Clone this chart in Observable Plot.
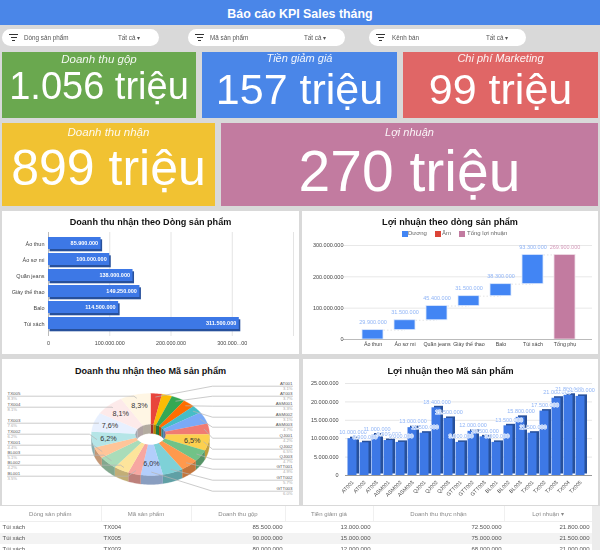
<!DOCTYPE html>
<html lang="vi"><head><meta charset="utf-8">
<script src="https://cdn.jsdelivr.net/npm/d3@7"></script>
<script src="https://cdn.jsdelivr.net/npm/@observablehq/plot@0.6"></script>
<style>
html,body{margin:0;padding:0;width:600px;height:550px;overflow:hidden;background:#d9d9d9;font-family:"Liberation Sans",Arial,sans-serif}
#root{position:relative;width:600px;height:550px;overflow:hidden;filter:blur(.45px)}
.abs{position:absolute}
.banner{left:0;top:0;width:600px;height:25px;background:#4a86e8;color:#fff;font-weight:700;font-size:12.4px;line-height:29px;text-align:center}
.pill{top:29px;height:17px;width:157px;background:#fff;border-radius:9px;color:#555;font-size:6.3px;line-height:17px}
.pill span{position:absolute;white-space:nowrap}
.fn{position:absolute;left:7px;height:1.2px;background:#333}
.card{color:#fff;text-align:center;overflow:hidden}
.card .lab{position:absolute;left:0;right:0;font-style:italic;opacity:.92;white-space:nowrap}
.card .val{position:absolute;left:0;right:0;white-space:nowrap;line-height:1}
.panel{background:#fff;overflow:hidden}
.panel svg{position:absolute;left:0;top:0;background:transparent}
.ttl{position:absolute;left:0;right:0;text-align:center;font-weight:700;font-size:9.1px;color:#111;white-space:nowrap}
.lg{position:absolute;font-size:6px;color:#666;white-space:nowrap}
.sw{position:absolute;width:6px;height:6px}
#tbl{left:0;top:506px;width:592px;height:44px;background:#fff;overflow:hidden}
#tbl table{border-collapse:collapse;table-layout:fixed;width:592px;font-size:6px;color:#555}
#tbl th{font-weight:400;color:#888;height:15px;padding:0;border-right:1px solid #f0f0f0;border-bottom:1px solid #eee}
#tbl td{height:11px;padding:0 2.5px;white-space:nowrap;line-height:11px}
#tbl tr.alt td{background:#f3f3f3}
#tbl td.n{text-align:right}
</style></head><body><div id="root"></div>
<script>
// ---- data ----
const reportTitle = "Báo cáo KPI Sales tháng";
const filterNames = ["Dòng sản phẩm", "Mã sản phẩm", "Kênh bán"];
const kpiNames = ["Doanh thu gộp", "Tiền giảm giá", "Chi phí Marketing", "Doanh thu nhận", "Lợi nhuận"];
const kpiValues = ["1.056 triệu", "157 triệu", "99 triệu", "899 triệu", "270 triệu"];

const lineNames = ["Áo thun", "Áo sơ mi", "Quần jeans", "Giày thể thao", "Balo", "Túi xách"];
const lineRevenue = [85900000, 100000000, 138000000, 149250000, 114500000, 311500000];
const lineProfit = [29900000, 31500000, 45400000, 31500000, 38300000, 93300000];
const profitTotal = 269900000;
const totalName = "Tổng phụ";

const productCodes = ["AT001","AT002","AT003","ASM001","ASM002","ASM003","QJ001","QJ002","QJ003","GTT001","GTT002","GTT003","BL001","BL002","BL003","TX001","TX002","TX003","TX004","TX005"];
const productProfit = [10000000,8900000,11000000,9500000,9000000,13000000,11500000,18400000,15500000,9000000,12000000,10500000,9000000,13500000,15800000,11500000,17500000,21000000,21800000,21500000];
const productShare = [3.1,2.8,3.7,3.3,3.1,4.7,4.2,6.5,4.7,4.9,5.7,6.0,3.5,4.2,5.1,4.4,6.2,7.6,8.1,8.3];

const tableHead = ["Dòng sản phẩm","Mã sản phẩm","Doanh thu gộp","Tiền giảm giá","Doanh thu thực nhận","Lợi nhuận ▾"];
const tableCol1 = ["Túi xách","Túi xách","Túi xách"];
const tableCol2 = ["TX004","TX005","TX003"];
const tableCol3 = ["85.500.000","90.000.000","80.000.000"];
const tableCol4 = ["13.000.000","15.000.000","12.000.000"];
const tableCol5 = ["72.500.000","75.000.000","68.000.000"];
const tableCol6 = ["21.800.000","21.500.000","21.000.000"];

// ---- styling / layout (not data) ----
const sliceColors = ["#e8453c","#fbbc04","#34a853","#ff6d01","#46bdc6","#7baaf7","#f07b72","#fcd04f","#71c287","#ff994d","#7ed1d7","#b3cefb","#f7a7a1","#fde49b","#aadcb9","#ffc599","#b5e5e7","#e8f0fe","#fdeaea","#fff6e4"];
const FONT = '"Liberation Sans",Arial,sans-serif';
const fmt = d => d3.format(",")(d).replace(/,/g, ".");
const root = document.getElementById("root");
function el(cls, css, html) {
  const e = document.createElement("div");
  e.className = cls;
  Object.assign(e.style, css);
  if (html != null) e.innerHTML = html;
  return e;
}
const px = n => n + "px";
root.append(el("abs banner", {}, reportTitle));

[[2, 22, 116], [188, 22, 116], [369, 23, 117]].forEach(([x, tx, vx], i) => {
  const p = el("abs pill", {left: px(x)});
  p.append(el("fn", {top: "5px", width: "9px", left: "7px"}));
  p.append(el("fn", {top: "8px", width: "6px", left: "8.5px"}));
  p.append(el("fn", {top: "11px", width: "3px", left: "10px"}));
  const a = document.createElement("span"); a.style.left = px(tx); a.textContent = filterNames[i];
  const b = document.createElement("span"); b.style.left = px(vx); b.textContent = "Tất cả ▾";
  p.append(a, b);
  root.append(p);
});

[[2,52,194,66,"#6aa84f",38,1,15],[202,52,195,66,"#4a86e8",43,0,16],[403,52,195,66,"#e06666",43,0,16],
 [2,123,213,83,"#f1c232",50,3,20],[221,123,377,83,"#c27ba0",57,3,20]].forEach(([x,y,w,h,c,fs,ly,vy],i) => {
  const d = el("abs card", {left:px(x),top:px(y),width:px(w),height:px(h),background:c});
  d.append(el("lab", {top:px(ly), fontSize: i===0||i===3?"11.5px":"11px"}, kpiNames[i]));
  d.append(el("val", {top:px(vy), fontSize:px(fs)}, kpiValues[i]));
  root.append(d);
});

function panel(x, y, w, h, title, ty) {
  const p = el("abs panel", {left:px(x),top:px(y),width:px(w),height:px(h)});
  p.append(el("ttl", {top:px(ty)}, title));
  root.append(p);
  return p;
}
const baseStyle = size => ({fontFamily: FONT, fontSize: px(size), color: "#444", background: "transparent", overflow: "visible"});

// ---- chart 1: horizontal 3D bars ----
{
  const p = panel(2, 211, 297, 143, "Doanh thu nhận theo Dòng sản phẩm", 6);
  const rows = lineNames.map((n, i) => ({n, v: lineRevenue[i]}));
  p.append(Plot.plot({
    width: 297, height: 143, marginLeft: 46, marginRight: 6, marginTop: 21, marginBottom: 18,
    style: baseStyle(5.5),
    x: {domain: [0, 400000000], axis: null},
    y: {domain: lineNames, padding: 0.28, axis: null},
    marks: [
      Plot.ruleX([100000000, 200000000, 300000000, 400000000], {stroke: "#e4e4e4", strokeWidth: 1}),
      Plot.ruleX([0], {stroke: "#bbb", strokeWidth: 1}),
      Plot.barX(rows, {y: "n", x: "v", fill: "#27509b", dx: 1.5, dy: 1.3}),
      Plot.barX(rows, {y: "n", x: "v", fill: "#3d78e6", dy: -1}),
      Plot.text(rows, {y: "n", x: "v", text: d => fmt(d.v), fill: "#fff", fontWeight: 700, fontSize: 5.5, textAnchor: "end", dx: -3, dy: -1}),
      Plot.axisY({tickSize: 0, tickPadding: 4, label: null, fontSize: 5.5}),
      Plot.axisX({ticks: [0, 100000000, 200000000, 300000000], tickSize: 0, tickPadding: 5, label: null, fontSize: 5.4,
        tickFormat: d => d === 300000000 ? "300.000...00" : fmt(d)})
    ]
  }));
}

// ---- chart 2: waterfall ----
{
  const p = panel(302, 211, 296, 143, "Lợi nhuận theo dòng sản phẩm", 6);
  let run = 0;
  const steps = lineNames.map((n, i) => { const a = run; run += lineProfit[i]; return {n, a, b: run, v: lineProfit[i]}; });
  const cats = [...lineNames, totalName];
  const links = steps.map((s, i) => ({x1: s.n, x2: cats[i + 1], y: s.b}));
  p.append(Plot.plot({
    width: 296, height: 143, marginLeft: 41, marginRight: 6, marginTop: 34, marginBottom: 15,
    style: baseStyle(5.5),
    x: {domain: cats, range: [48, 284], padding: 0.345, axis: null},
    y: {domain: [0, 300000000], axis: null},
    marks: [
      Plot.ruleY([100000000, 200000000, 300000000], {stroke: "#e8e8e8"}),
      Plot.link(links, {x1: "x1", x2: "x2", y1: "y", y2: "y", stroke: "#ddd", strokeDasharray: "1.5,2", strokeWidth: .8}),
      Plot.barY(steps, {x: "n", y1: "a", y2: "b", fill: "#4285f4", stroke: "#dce8fd", strokeWidth: .8}),
      Plot.barY([{n: totalName, v: profitTotal}], {x: "n", y: "v", fill: "#c27ba0", stroke: "#f0dfe8", strokeWidth: .8}),
      Plot.ruleY([0], {stroke: "#bbb", strokeWidth: 1}),
      Plot.text(steps, {x: "n", y: "b", text: d => fmt(d.v), fill: "#8fb4f6", fontSize: 5.5, dy: -8}),
      Plot.text([{n: totalName, v: profitTotal}], {x: "n", y: "v", text: d => fmt(d.v), fill: "#d59cbb", fontSize: 5.5, dy: -8}),
      Plot.axisY({ticks: [0, 100000000, 200000000, 300000000], tickSize: 0, tickPadding: 0, label: null, fontSize: 5.5, tickFormat: fmt}),
      Plot.axisX({tickSize: 0, tickPadding: 3, label: null, fontSize: 5.3})
    ]
  }));
  [[100,"#4285f4",106,"Dương"],[133,"#db4437",140,"Âm"],[157,"#c27ba0",165,"Tổng lợi nhuận"]].forEach(([sx,c,tx,t]) => {
    p.append(el("sw", {left:px(sx),top:"20px",background:c}));
    p.append(el("lg", {left:px(tx),top:"19px"}, t));
  });
}

// ---- chart 3: 3D doughnut ----
{
  const W = 297, H = 146;
  const p = panel(2, 359, W, H, "Doanh thu nhận theo Mã sản phẩm", 7);
  const cx = 148, cy = 75, rx = 59, ry = 41, hx = 15, hy = 10, depth = 9;
  const X = (t, f) => cx + rx * f * Math.sin(t), Y = (t, f) => cy - ry * f * Math.cos(t);
  const arcs = d3.pie().sort(null).value(d => d)(productShare);
  const seq = (a, b, step = 0.03) => { const n = Math.max(2, Math.ceil((b - a) / step)); return d3.range(n + 1).map(i => a + (b - a) * i / n); };
  const top = [], wall = [], inner = [], hole = [];
  const addInner = (i, tone, a, b) => {
    const r = seq(a, b);
    r.forEach(t => inner.push({k: i + "-" + a, c: tone, x: cx + hx * Math.sin(t), y: cy - hy * Math.cos(t)}));
    r.slice().reverse().forEach(t => {
      const yy = cy - hy * Math.cos(t);
      inner.push({k: i + "-" + a, c: tone, x: cx + hx * Math.sin(t), y: Math.min(yy + depth, 2 * cy - yy)});
    });
  };
  arcs.forEach((a, i) => {
    const c = sliceColors[i], dk = d3.color(c).darker(0.75).formatHex(), tone = d3.color(c).darker(1).formatHex();
    seq(a.startAngle, a.endAngle).forEach(t => top.push({k: i, c, x: X(t, 1), y: Y(t, 1)}));
    seq(a.startAngle, a.endAngle).reverse().forEach(t => top.push({k: i, c, x: cx + hx * Math.sin(t), y: cy - hy * Math.cos(t)}));
    const s = Math.max(a.startAngle, Math.PI / 2), e = Math.min(a.endAngle, 3 * Math.PI / 2);
    if (e > s) {
      seq(s, e).forEach(t => wall.push({k: i, c: dk, x: X(t, 1), y: Y(t, 1)}));
      seq(s, e).reverse().forEach(t => wall.push({k: i, c: dk, x: X(t, 1), y: Y(t, 1) + depth}));
    }
    if (a.startAngle < Math.PI / 2) addInner(i, tone, a.startAngle, Math.min(a.endAngle, Math.PI / 2));
    if (a.endAngle > 3 * Math.PI / 2) addInner(i, tone, Math.max(a.startAngle, 3 * Math.PI / 2), a.endAngle);
  });
  seq(0, 2 * Math.PI, 0.1).forEach(t => hole.push({x: cx + hx * Math.sin(t), y: cy - hy * Math.cos(t)}));

  const mid = a => (a.startAngle + a.endAngle) / 2;
  const big = arcs.filter(a => a.data >= 6).map(a => ({
    x: X(mid(a), 0.72), y: Y(mid(a), 0.72), t: d3.format(".1f")(a.data).replace(".", ",") + "%"}));

  const pct = v => d3.format(".1f")(v) + "%";
  // label rows are layout: the callout rows, in panel pixels
  const leftRows = {TX005: 34, TX004: 45, TX003: 61, TX002: 72, TX001: 83, BL003: 93, BL002: 103, BL001: 114};
  const rightRows = {AT001: 24, AT003: 34, ASM001: 44, ASM002: 55, ASM003: 65, QJ001: 76, QJ002: 87, QJ003: 97, GTT001: 107, GTT002: 118, GTT003: 129};
  const leaders = [], lNames = [], lPcts = [], rNames = [], rPcts = [];
  productCodes.forEach((code, i) => {
    const a = arcs[i], ax = X(mid(a), 0.92), ay = Y(mid(a), 0.92);
    if (code in leftRows) {
      const r0 = leftRows[code];
      const ex = ax - Math.abs(ay - (r0 + 2.7)) * 1.4;
      [[ax, ay], [ex, r0 + 2.7], [5, r0 + 2.7]].forEach(([x, y]) => leaders.push({k: code, x, y}));
      lNames.push({x: 5, y: r0, t: code});
      lPcts.push({x: 5, y: r0 + 5.4, t: pct(a.data)});
    } else if (code in rightRows) {
      const r0 = rightRows[code];
      [[ax, ay], [Math.max(ax + 6, 210), r0 + 2.7], [290, r0 + 2.7]].forEach(([x, y]) => leaders.push({k: code, x, y}));
      rNames.push({x: 290, y: r0, t: code});
      rPcts.push({x: 290, y: r0 + 5.4, t: pct(a.data)});
    }
  });

  p.append(Plot.plot({
    width: W, height: H, margin: 0,
    style: baseStyle(5),
    x: {domain: [0, W], range: [0, W], axis: null},
    y: {domain: [0, H], range: [0, H], axis: null},
    color: {type: "identity"},
    marks: [
      Plot.line(wall, {x: "x", y: "y", z: "k", fill: "c", stroke: "c", strokeWidth: .3}),
      Plot.line(top, {x: "x", y: "y", z: "k", fill: "c", stroke: "c", strokeWidth: .3}),
      Plot.line(hole, {x: "x", y: "y", fill: "#fff", stroke: "none"}),
      Plot.line(inner, {x: "x", y: "y", z: "k", fill: "c", stroke: "c", strokeWidth: .2}),
      Plot.line(leaders, {x: "x", y: "y", z: "k", stroke: "#b5b5b5", strokeWidth: .7}),
      Plot.text(lNames, {x: "x", y: "y", text: "t", textAnchor: "start", fill: "#555", fontSize: 4.4}),
      Plot.text(lPcts, {x: "x", y: "y", text: "t", textAnchor: "start", fill: "#aaa", fontSize: 4.2}),
      Plot.text(rNames, {x: "x", y: "y", text: "t", textAnchor: "end", fill: "#555", fontSize: 4.4}),
      Plot.text(rPcts, {x: "x", y: "y", text: "t", textAnchor: "end", fill: "#aaa", fontSize: 4.2}),
      Plot.text(big, {x: "x", y: "y", text: "t", fill: "#333", fontSize: 7.2})
    ]
  }));
}

// ---- chart 4: 3D columns ----
{
  const p = panel(303, 359, 295, 146, "Lợi nhuận theo Mã sản phẩm", 7);
  const rows = productCodes.map((n, i) => ({n, v: productProfit[i]}));
  p.append(Plot.plot({
    width: 295, height: 146, marginLeft: 42, marginRight: 6, marginTop: 24, marginBottom: 30,
    style: baseStyle(5.5),
    x: {domain: productCodes, range: [39.85, 286], padding: 0.27, axis: null},
    y: {domain: [0, 25000000], axis: null},
    marks: [
      Plot.ruleY([5000000, 10000000, 15000000, 20000000, 25000000], {stroke: "#e6e6e6"}),
      Plot.barY(rows, {x: "n", y: "v", fill: "#27509b", dx: 2, dy: -1.5}),
      Plot.barY(rows, {x: "n", y: "v", fill: "#3d78e6", dx: -0.5}),
      Plot.ruleY([0], {stroke: "#999", strokeWidth: 1}),
      Plot.text(rows, {x: "n", y: "v", text: d => fmt(d.v), fill: "#8fb4f6", fontSize: 5.5, dy: -6, stroke: "#fff", strokeWidth: 1.2, paintOrder: "stroke"}),
      Plot.axisY({ticks: [0, 5000000, 10000000, 15000000, 20000000, 25000000], tickSize: 0, tickPadding: 7, label: null, fontSize: 5.5, tickFormat: fmt}),
      Plot.axisX({tickSize: 0, tickPadding: 6, tickRotate: -45, label: null, fontSize: 5.3})
    ]
  }));
}

// ---- table ----
{
  const t = el("abs", {}); t.id = "tbl";
  const widths = [101, 90, 94, 88, 131, 88];
  const rows = tableCol1.map((_, i) => [tableCol1[i], tableCol2[i], tableCol3[i], tableCol4[i], tableCol5[i], tableCol6[i]]);
  const colgroup = "<colgroup>" + widths.map(w => `<col style="width:${w}px">`).join("") + "</colgroup>";
  const head = "<tr>" + tableHead.map(h => `<th>${h}</th>`).join("") + "</tr>";
  const body = rows.map((r, i) => `<tr class="${i % 2 ? "alt" : ""}">` + r.map((c, j) => `<td class="${j > 1 ? "n" : ""}">${c}</td>`).join("") + "</tr>").join("");
  t.innerHTML = `<table>${colgroup}${head}${body}</table>`;
  root.append(t);
  root.append(el("abs", {left:"592px",top:"506px",width:"8px",height:"44px",background:"#ececec"}));
}
</script></body></html>
